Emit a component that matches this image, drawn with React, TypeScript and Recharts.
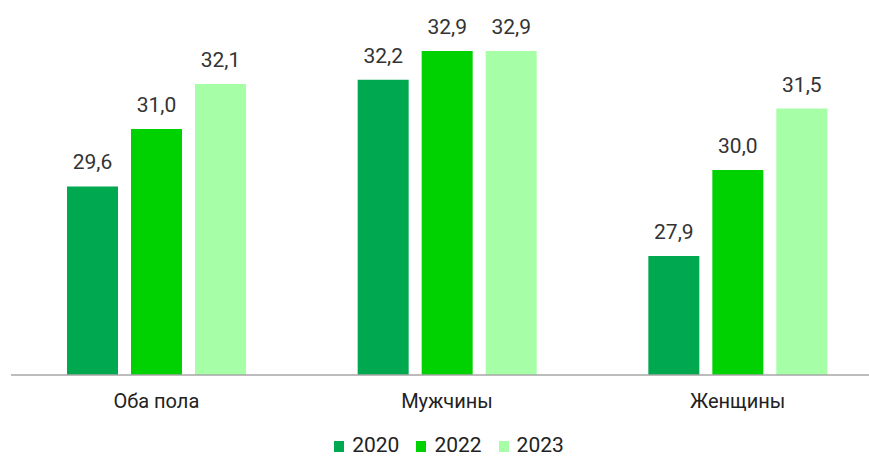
import { BarChart, Bar, XAxis, YAxis, Legend, LabelList } from "recharts";

const categories = ["Оба пола", "Мужчины", "Женщины"];
const values2020 = [29.6, 32.2, 27.9];
const values2022 = [31.0, 32.9, 30.0];
const values2023 = [32.1, 32.9, 31.5];

const series = [
  { key: "y2020", name: "2020", color: "#00A84F", values: values2020 },
  { key: "y2022", name: "2022", color: "#00D100", values: values2022 },
  { key: "y2023", name: "2023", color: "#A6FFA6", values: values2023 },
];

const data = categories.map((name, i) => {
  const row: Record<string, string | number> = { name };
  series.forEach(s => { row[s.key] = s.values[i]; });
  return row;
});

const fmt = (v: any) => Number(v).toFixed(1).replace(".", ",");

function LegendContent() {
  return (
    <div style={{ display: "flex", justifyContent: "center", gap: 17, paddingTop: 20, paddingLeft: 4, height: 25, fontFamily: "Roboto", fontSize: 21, lineHeight: "25px", color: "#222" }}>
      {series.map(s => (
        <span key={s.key} style={{ display: "flex", alignItems: "center", gap: 8 }}>
          <span style={{ width: 10, height: 11, background: s.color, display: "inline-block", marginTop: 2 }} />
          {s.name}
        </span>
      ))}
    </div>
  );
}

export default function App() {
  return (
    <div style={{ position: "absolute", left: 0, top: 0, width: 869, height: 459, overflow: "hidden", background: "#fff" }}>
      <BarChart
        width={883}
        height={459}
        data={data}
        margin={{ top: 6, right: 0, bottom: 0, left: 11 }}
        barSize={51}
        barGap={13}
        style={{ fontFamily: "Roboto" }}
      >
        <XAxis
          dataKey="name"
          axisLine={{ stroke: "#A6A6A6", strokeWidth: 1.5 }}
          tickLine={false}
          tick={{ fontSize: 20, fill: "#222", fontFamily: "Roboto" }}
          tickMargin={13}
          height={38}
        />
        <YAxis hide domain={[25, 34]} />
        <Legend verticalAlign="bottom" height={46} content={<LegendContent />} />
        {series.map(s => (
          <Bar key={s.key} dataKey={s.key} name={s.name} fill={s.color} isAnimationActive={false}>
            <LabelList dataKey={s.key} position="top" offset={17} formatter={fmt} style={{ fontSize: 21, fill: "#333", fontFamily: "Roboto" }} />
          </Bar>
        ))}
      </BarChart>
    </div>
  );
}
